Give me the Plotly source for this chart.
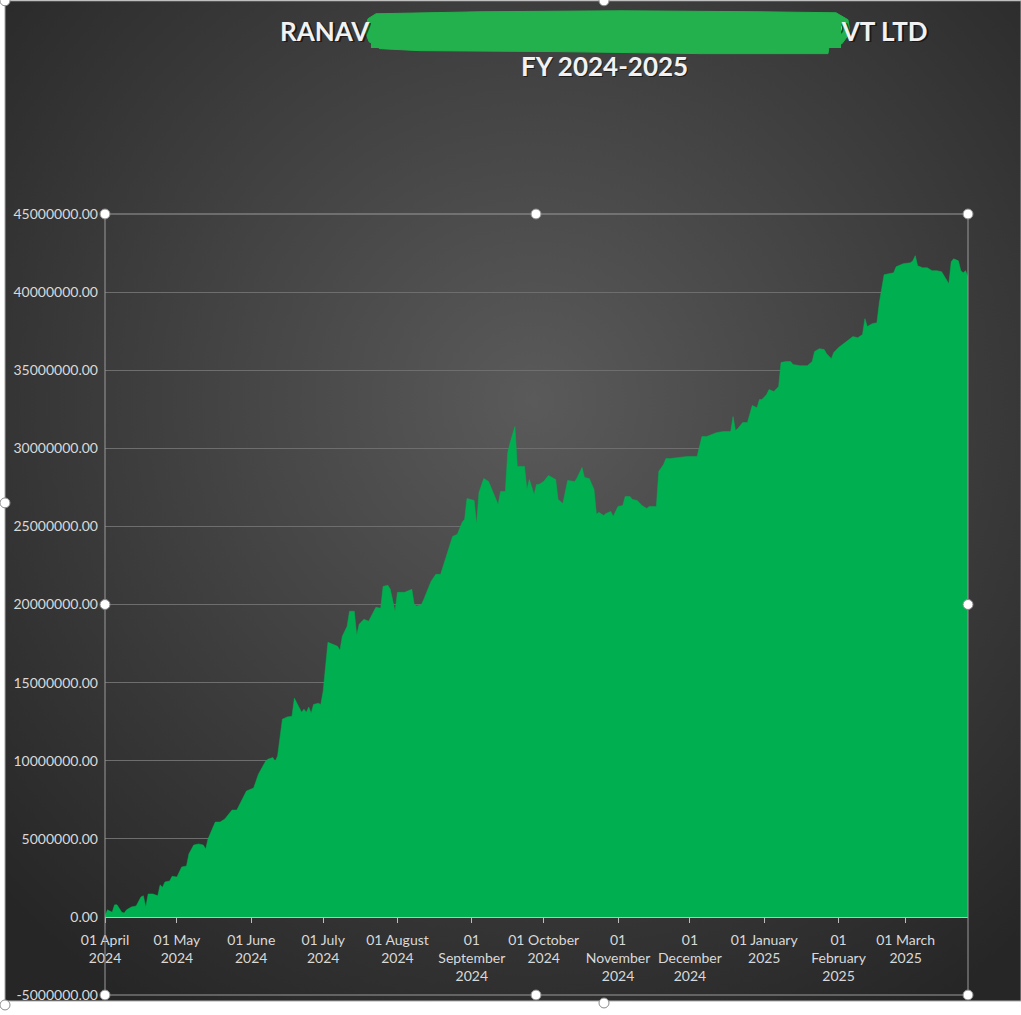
import base64
import plotly.graph_objects as go

# cumulative balance (values in millions)
dates = [
    "2024-04-01", "2024-04-02", "2024-04-04", "2024-04-05", "2024-04-06", "2024-04-08",
    "2024-04-09", "2024-04-10", "2024-04-12", "2024-04-14", "2024-04-16", "2024-04-17",
    "2024-04-18", "2024-04-19", "2024-04-21", "2024-04-23", "2024-04-24", "2024-04-25",
    "2024-04-26", "2024-04-28", "2024-04-29", "2024-05-01", "2024-05-03", "2024-05-05",
    "2024-05-06", "2024-05-08", "2024-05-10", "2024-05-12", "2024-05-13", "2024-05-14",
    "2024-05-17", "2024-05-19", "2024-05-21", "2024-05-23", "2024-05-24", "2024-05-26",
    "2024-05-28", "2024-05-30", "2024-06-02", "2024-06-04", "2024-06-07", "2024-06-08",
    "2024-06-10", "2024-06-11", "2024-06-12", "2024-06-14", "2024-06-16", "2024-06-18",
    "2024-06-19", "2024-06-21", "2024-06-22", "2024-06-23", "2024-06-24", "2024-06-25",
    "2024-06-26", "2024-06-27", "2024-06-29", "2024-06-30", "2024-07-01", "2024-07-03",
    "2024-07-05", "2024-07-07", "2024-07-08", "2024-07-09", "2024-07-11", "2024-07-12",
    "2024-07-14", "2024-07-15", "2024-07-16", "2024-07-18", "2024-07-20", "2024-07-22",
    "2024-07-23", "2024-07-25", "2024-07-26", "2024-07-28", "2024-07-29", "2024-07-31",
    "2024-08-01", "2024-08-04", "2024-08-05", "2024-08-07", "2024-08-08", "2024-08-09",
    "2024-08-11", "2024-08-12", "2024-08-15", "2024-08-17", "2024-08-19", "2024-08-20",
    "2024-08-22", "2024-08-24", "2024-08-26", "2024-08-28", "2024-08-29", "2024-08-30",
    "2024-09-02", "2024-09-03", "2024-09-04", "2024-09-06", "2024-09-08", "2024-09-10",
    "2024-09-12", "2024-09-13", "2024-09-15", "2024-09-16", "2024-09-17", "2024-09-19",
    "2024-09-20", "2024-09-22", "2024-09-23", "2024-09-24", "2024-09-25", "2024-09-27",
    "2024-09-28", "2024-09-29", "2024-10-01", "2024-10-03", "2024-10-06", "2024-10-07",
    "2024-10-09", "2024-10-11", "2024-10-14", "2024-10-15", "2024-10-17", "2024-10-18",
    "2024-10-20", "2024-10-22", "2024-10-23", "2024-10-24", "2024-10-26", "2024-10-27",
    "2024-10-29", "2024-10-30", "2024-11-01", "2024-11-03", "2024-11-04", "2024-11-06",
    "2024-11-07", "2024-11-09", "2024-11-11", "2024-11-13", "2024-11-14", "2024-11-17",
    "2024-11-18", "2024-11-20", "2024-11-21", "2024-11-23", "2024-11-26", "2024-11-28",
    "2024-11-30", "2024-12-04", "2024-12-06", "2024-12-08", "2024-12-10", "2024-12-12",
    "2024-12-15", "2024-12-18", "2024-12-19", "2024-12-20", "2024-12-21", "2024-12-23",
    "2024-12-25", "2024-12-27", "2024-12-29", "2024-12-30", "2024-12-31", "2025-01-02",
    "2025-01-03", "2025-01-05", "2025-01-07", "2025-01-08", "2025-01-10", "2025-01-12",
    "2025-01-13", "2025-01-16", "2025-01-19", "2025-01-21", "2025-01-22", "2025-01-24",
    "2025-01-26", "2025-01-27", "2025-01-29", "2025-01-30", "2025-02-01", "2025-02-04",
    "2025-02-07", "2025-02-09", "2025-02-11", "2025-02-12", "2025-02-13", "2025-02-15",
    "2025-02-17", "2025-02-18", "2025-02-20", "2025-02-22", "2025-02-24", "2025-02-25",
    "2025-02-28", "2025-03-03", "2025-03-04", "2025-03-05", "2025-03-06", "2025-03-08",
    "2025-03-10", "2025-03-12", "2025-03-14", "2025-03-16", "2025-03-19", "2025-03-20",
    "2025-03-21", "2025-03-23", "2025-03-24", "2025-03-25", "2025-03-26", "2025-03-27",
]
balance_mn = [
    0.05, 0.45, 0.30, 0.77, 0.77, 0.30,
    0.25, 0.45, 0.64, 0.70, 1.28, 1.35,
    0.64, 1.47, 1.47, 1.35, 2.05, 1.90,
    2.24, 2.30, 2.60, 2.55, 3.20, 3.26,
    4.03, 4.60, 4.67, 4.60, 4.35, 5.00,
    6.07, 6.07, 6.27, 6.70, 6.84, 6.84,
    7.50, 8.06, 8.25, 9.14, 9.97, 10.10,
    10.20, 9.97, 10.30, 12.66, 12.80, 12.85,
    14.00, 13.43, 13.10, 13.30, 13.10, 13.43,
    13.04, 13.60, 13.68, 13.60, 14.45, 17.58,
    17.45, 17.33, 17.07, 17.97, 18.60, 19.57,
    19.57, 18.03, 18.73, 19.05, 18.93, 19.57,
    19.82, 19.76, 21.16, 21.23, 20.97, 19.57,
    20.78, 20.78, 20.84, 20.97, 20.00, 19.90,
    20.00, 20.33, 21.48, 21.93, 21.93, 22.44,
    23.34, 24.36, 24.50, 25.26, 25.45, 26.79,
    26.66, 25.13, 27.17, 28.07, 27.88, 27.17,
    26.40, 27.24, 27.24, 29.73, 30.37, 31.39,
    28.84, 28.84, 28.84, 27.37, 28.00, 27.05,
    27.69, 27.69, 27.88, 28.26, 28.00, 26.73,
    26.47, 27.94, 27.88, 28.13, 28.77, 28.13,
    28.07, 27.37, 25.77, 25.90, 25.70, 25.83,
    25.96, 25.64, 26.28, 26.34, 26.92, 26.92,
    26.73, 26.66, 26.34, 26.15, 26.28, 26.28,
    28.52, 28.96, 29.35, 29.35, 29.41, 29.48,
    29.48, 29.48, 30.75, 30.75, 30.88, 31.00,
    31.07, 31.07, 32.03, 31.14, 31.27, 31.65,
    31.65, 32.74, 32.60, 33.12, 33.12, 33.44,
    33.76, 33.63, 33.95, 35.49, 35.55, 35.55,
    35.36, 35.29, 35.29, 35.55, 36.19, 36.38,
    36.32, 36.06, 35.74, 36.13, 36.45, 36.83,
    37.15, 37.08, 37.28, 38.30, 37.79, 37.98,
    38.04, 39.32, 41.11, 41.18, 41.24, 41.62,
    41.82, 41.88, 42.00, 42.33, 41.69, 41.56,
    41.56, 41.37, 41.37, 41.30, 40.54, 41.94,
    42.13, 42.00, 41.37, 41.24, 41.37, 40.98,
]
balance = [v * 1e6 for v in balance_mn]

month_ticks = [
    "2024-04-01", "2024-05-01", "2024-06-01", "2024-07-01", "2024-08-01", "2024-09-01",
    "2024-10-01", "2024-11-01", "2024-12-01", "2025-01-01", "2025-02-01", "2025-03-01",
]
month_labels = [
    "01 April<br>2024", "01 May<br>2024", "01 June<br>2024", "01 July<br>2024",
    "01 August<br>2024", "01<br>September<br>2024", "01 October<br>2024",
    "01<br>November<br>2024", "01<br>December<br>2024", "01 January<br>2025",
    "01<br>February<br>2025", "01 March<br>2025",
]
y_ticks = [-5e6, 0, 5e6, 10e6, 15e6, 20e6, 25e6, 30e6, 35e6, 40e6, 45e6]
y_labels = [f"{v:.2f}" for v in y_ticks]

W, H = 1021, 1015
# plot area in pixels (left, top, right, bottom)
PL, PT, PR, PB = 105, 214, 968, 998


def fx(px):
    return (px - PL) / (PR - PL)


def fy(py):
    return (PB - py) / (PB - PT)


# dark radial gradient behind the chart (Excel chart style)
svg = (
    '<svg xmlns="http://www.w3.org/2000/svg" width="1016" height="1004">'
    '<defs><radialGradient id="g" cx="52%" cy="40%" r="72%">'
    '<stop offset="0" stop-color="#5a5a5a"/><stop offset="1" stop-color="#262626"/>'
    '</radialGradient></defs><rect width="1016" height="1004" fill="url(#g)"/></svg>'
)
bg_uri = "data:image/svg+xml;base64," + base64.b64encode(svg.encode()).decode()

fig = go.Figure()
fig.add_trace(go.Scatter(
    x=dates, y=balance, mode="lines", fill="tozeroy",
    line=dict(color="#00b050", width=0.5), fillcolor="#00b050",
    hoverinfo="x+y", showlegend=False,
))

font = "Lato, 'Open Sans', sans-serif"
title_col = "#f2f2f2"
shadow = "rgba(0,0,0,0.55)"
blob_col = "#22b14c"

annotations = []
for txt, x, y, anchor in [
    ("RANAVI", 278, 30, "left"),
    ("PVT LTD", 930, 30, "right"),
    ("FY 2024-2025", 604, 65, "center"),
]:
    for col, dx, dy in [(shadow, 1.5, 1.5), (title_col, 0, 0)]:
        annotations.append(dict(
            text=f"<b>{txt}</b>", x=fx(x + dx), y=fy(y + dy), xref="paper", yref="paper",
            xanchor=anchor, yanchor="middle", showarrow=False,
            font=dict(family=font, size=26, color=col),
        ))
# solid middle of the redaction stroke (annotations sit above shapes)
annotations.append(dict(
    text=" ", x=fx(371), y=fy(16), xref="paper", yref="paper",
    xanchor="left", yanchor="top", showarrow=False,
    width=470, height=31, bgcolor=blob_col, borderpad=0, borderwidth=0,
))

# rounded ends of the green redaction stroke
blob = [(376, 13), (480, 11), (620, 10), (760, 11), (836, 12), (848, 19), (850, 32),
        (842, 43), (829, 46), (828, 53), (700, 53), (560, 51), (420, 50), (380, 48),
        (369, 41), (365, 30), (368, 18)]
blob_path = "M " + " L ".join(f"{fx(a):.5f},{fy(b):.5f}" for a, b in blob) + " Z"

shapes = [
    # chart area edge
    dict(type="rect", xref="paper", yref="paper", x0=fx(5), x1=fx(1021), y0=fy(1004), y1=fy(0),
         line=dict(color="#a6a6a6", width=1), layer="below"),
    # plot area outline
    dict(type="rect", xref="paper", yref="paper", x0=0, x1=1, y0=0, y1=1,
         line=dict(color="#9a9a9a", width=1)),
    dict(type="path", xref="paper", yref="paper", path=blob_path,
         fillcolor=blob_col, line=dict(color=blob_col, width=1)),
]

handles = [(105, 214), (536, 214), (968, 214), (105, 606), (968, 606), (105, 998),
           (536, 998), (968, 998), (604, 0), (5, 0), (5, 504), (5, 1008), (604, 1006)]
for hx, hy in handles:
    shapes.append(dict(type="circle", xref="paper", yref="paper",
                       x0=fx(hx - 5), x1=fx(hx + 5), y0=fy(hy + 5), y1=fy(hy - 5),
                       fillcolor="white", line=dict(color="#8a8a8a", width=1)))

fig.update_layout(
    width=W, height=H,
    margin=dict(l=PL, r=W - PR, t=PT, b=H - PB, pad=0),
    paper_bgcolor="white", plot_bgcolor="rgba(0,0,0,0)",
    font=dict(family=font, size=14, color="#d9d9d9"),
    images=[dict(source=bg_uri, xref="paper", yref="paper", x=fx(5), y=fy(0),
                 sizex=fx(1021) - fx(5), sizey=fy(0) - fy(1004),
                 xanchor="left", yanchor="top", sizing="stretch", layer="below")],
    annotations=annotations,
    shapes=shapes,
    xaxis=dict(
        type="date", range=["2024-04-01", "2025-03-27"],
        tickvals=month_ticks, ticktext=month_labels,
        ticks="outside", ticklen=5, tickcolor="#bfbfbf",
        ticklabelstandoff=5,
        showline=True, linecolor="#bfbfbf", linewidth=1,
        showgrid=False, zeroline=False,
        anchor="free", position=0.1,
        tickfont=dict(family=font, size=14, color="#d9d9d9"),
    ),
    yaxis=dict(
        range=[-5e6, 45e6], tickvals=y_ticks, ticktext=y_labels,
        showgrid=True, gridcolor="#6e6e6e", gridwidth=1,
        zeroline=False, showline=False, ticks="",
        ticklabelstandoff=6,
        tickfont=dict(family=font, size=14, color="#d9d9d9"),
    ),
)

fig.write_html("out.html", config={"displayModeBar": False},
               post_script="document.body.style.margin = '0';")
